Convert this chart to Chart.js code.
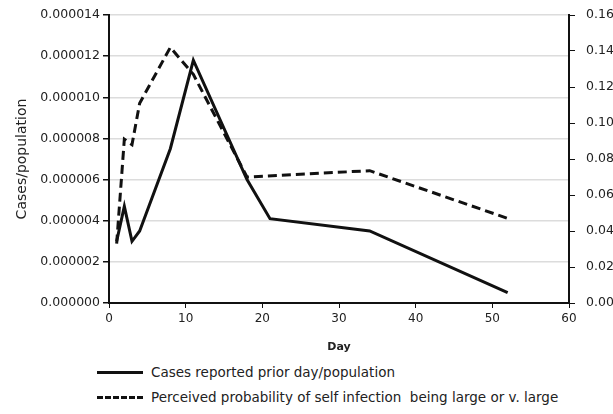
<!DOCTYPE html>
<html>
<head>
<meta charset="utf-8">
<script src="https://cdn.jsdelivr.net/npm/chart.js@4/dist/chart.umd.min.js"></script>
<style>
	html, body { margin: 0; padding: 0; background: #fff; overflow: hidden; }
	#wrap { position: relative; width: 613px; height: 414px; }
	#chart-box { position: absolute; left: 0; top: 0; width: 613px; height: 360px; }
	.legend { position: absolute; left: 97px; font: 13.5px 'DejaVu Sans', sans-serif; color: #222; display: flex; align-items: center; white-space: nowrap; }
	.legend span.sample { display: inline-block; width: 46px; margin-right: 8px; }
	.legend .solid { border-top: 3px solid #111; }
	.legend .dashed { border-top: 3px dashed #111; }
</style>
</head>
<body>
<div id="wrap">
	<div id="chart-box"><canvas id="casesChart" width="613" height="360"></canvas></div>
	<div class="legend" style="top:364px"><span class="sample solid"></span>Cases reported prior day/population</div>
	<div class="legend" style="top:389px"><span class="sample dashed"></span>Perceived probability of self infection&nbsp; being large or v. large</div>
</div>
<script>
(() => {
	'use strict'

	const caseDays = [1, 2, 3, 4, 8, 11, 18, 21, 34, 52];
	const casesPerPopulation = [0.0000030, 0.0000047, 0.0000030, 0.0000035, 0.0000075, 0.0000118, 0.0000060, 0.0000041, 0.0000035, 0.0000005];

	const surveyDays = [1, 2, 3, 4, 8, 11, 18, 34, 52];
	const perceivedProbability = [0.033, 0.091, 0.088, 0.111, 0.142, 0.127, 0.070, 0.0735, 0.047];

	const leftTicks = [0, 0.000002, 0.000004, 0.000006, 0.000008, 0.00001, 0.000012, 0.000014];
	const rightTicks = [0, 0.02, 0.04, 0.06, 0.08, 0.10, 0.12, 0.14, 0.16];

	const tickFont = { family: "'DejaVu Sans', sans-serif", size: 12.5 };
	const xTickFont = { family: "'DejaVu Sans', sans-serif", size: 12 };
	const inkColor = '#222';

	const ctx = document.getElementById('casesChart');

	new Chart(ctx, {
		type: 'line',
		data: {
			datasets: [
				{
					label: 'Cases reported prior day/population',
					data: caseDays.map((d, i) => ({ x: d, y: casesPerPopulation[i] })),
					borderColor: '#111',
					borderWidth: 3,
					pointRadius: 0,
					tension: 0,
					yAxisID: 'y'
				},
				{
					label: 'Perceived probability of self infection  being large or v. large',
					data: surveyDays.map((d, i) => ({ x: d, y: perceivedProbability[i] })),
					borderColor: '#111',
					borderWidth: 3,
					borderDash: [9, 5],
					pointRadius: 0,
					tension: 0,
					yAxisID: 'y2'
				}
			]
		},
		options: {
			responsive: false,
			animation: false,
			layout: { padding: { top: 15, bottom: 0, left: 0, right: 0 } },
			plugins: {
				legend: { display: false },
				tooltip: { enabled: false }
			},
			scales: {
				x: {
					type: 'linear',
					min: 0,
					max: 60,
					ticks: { stepSize: 10, color: inkColor, font: xTickFont, padding: 4 },
					grid: { drawOnChartArea: false, color: '#111', tickLength: 5, tickColor: '#111' },
					border: { color: '#111', width: 2 },
					title: { display: true, text: 'Day', color: inkColor, font: { family: "'DejaVu Sans', sans-serif", size: 11, weight: 'bold' }, padding: { top: 4, bottom: 6 } },
					afterFit: function(scale) { scale.height = 57; }
				},
				y: {
					position: 'left',
					min: 0,
					max: 0.000014,
					afterBuildTicks: function(scale) { scale.ticks = leftTicks.map((v) => ({ value: v })); },
					ticks: {
						color: inkColor,
						font: tickFont,
						padding: 3,
						callback: function(value) { return value.toFixed(6); }
					},
					grid: { color: '#dcdcdc', lineWidth: 1.5, tickLength: 6, tickColor: '#111' },
					border: { color: '#111', width: 2 },
					title: { display: true, text: 'Cases/population', color: inkColor, font: { family: "'DejaVu Sans', sans-serif", size: 14 }, padding: { top: 14, bottom: 4 } },
					afterFit: function(scale) { scale.width = 109; }
				},
				y2: {
					position: 'right',
					min: 0,
					max: 0.16,
					afterBuildTicks: function(scale) { scale.ticks = rightTicks.map((v) => ({ value: v })); },
					ticks: {
						color: inkColor,
						font: tickFont,
						padding: 11,
						callback: function(value) { return value.toFixed(2); }
					},
					grid: { drawOnChartArea: false, tickLength: 6, tickColor: '#111' },
					border: { color: '#111', width: 2 },
					afterFit: function(scale) {
						scale.width = 44;
						scale.paddingTop = 0;
						scale.paddingBottom = 0;
					}
				}
			}
		}
	});
})()
</script>
</body>
</html>
